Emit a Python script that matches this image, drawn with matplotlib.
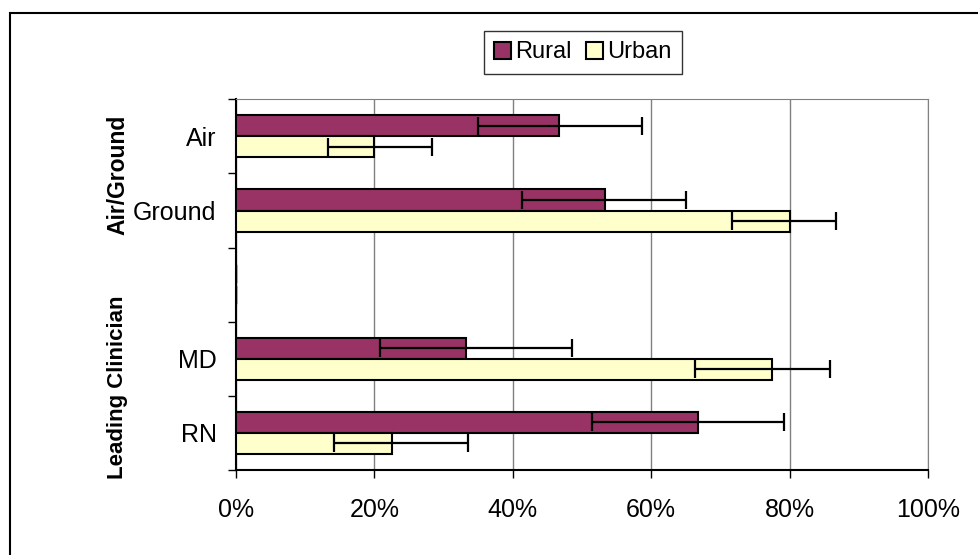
import matplotlib.pyplot as plt
import matplotlib.patches as mpatches
import numpy as np

plt.rcParams['font.family'] = ['Liberation Sans', 'DejaVu Sans']

# categories top to bottom (blank slot separates the two groups)
cats = ['Air', 'Ground', '', 'MD', 'RN']
rural = [46.7, 53.3, 0, 33.3, 66.7]
rural_lo = [35.0, 41.3, 0, 20.8, 51.4]
rural_hi = [58.7, 65.0, 0, 48.5, 79.2]
urban = [20.0, 80.0, 0, 77.4, 22.5]
urban_lo = [13.3, 71.7, 0, 66.4, 14.1]
urban_hi = [28.3, 86.7, 0, 85.8, 33.5]
x_ticks = [0, 20, 40, 60, 80, 100]
groups = ['Air/Ground', 'Leading Clinician']

rural_col = '#993366'
urban_col = '#FFFFCC'

fig = plt.figure(figsize=(9.79, 5.55), dpi=100)
ax = fig.add_axes([236/979, 1-470/555, (928-236)/979, (470-99.3)/555])

y = np.arange(len(cats))
h = 0.285
r_err = [np.array(rural) - np.array(rural_lo), np.array(rural_hi) - np.array(rural)]
u_err = [np.array(urban) - np.array(urban_lo), np.array(urban_hi) - np.array(urban)]

ax.barh(y - h/2, rural, height=h, color=rural_col, edgecolor='black', linewidth=1.5,
        label='Rural', zorder=3)
ax.barh(y + h/2, urban, height=h, color=urban_col, edgecolor='black', linewidth=1.5,
        label='Urban', zorder=3)
ax.errorbar(rural, y - h/2, xerr=r_err, fmt='none', ecolor='black', elinewidth=1.6,
            capsize=6.5, capthick=1.6, zorder=4)
ax.errorbar(urban, y + h/2, xerr=u_err, fmt='none', ecolor='black', elinewidth=1.6,
            capsize=6.5, capthick=1.6, zorder=4)

ax.set_xlim(0, 100)
ax.set_ylim(len(cats) - 0.5, -0.5)
ax.set_xticks(x_ticks)
ax.set_xticklabels([str(t) + '%' for t in x_ticks], fontsize=18)
ax.tick_params(axis='x', length=6, width=1, pad=14)

# boundary ticks unlabeled, labels at category centres
ax.set_yticks(np.arange(len(cats) + 1) - 0.5)
ax.set_yticklabels([])
ax.set_yticks(y, minor=True)
ax.set_yticklabels(cats, minor=True, fontsize=18)
ax.tick_params(axis='y', which='major', length=6, width=1)
ax.tick_params(axis='y', which='minor', length=0, pad=14)

ax.grid(axis='x', color='#808080', linewidth=1, zorder=0)
ax.spines['left'].set_color('black')
ax.spines['bottom'].set_color('black')
ax.spines['left'].set_linewidth(1.5)
ax.spines['bottom'].set_linewidth(1.5)
ax.spines['top'].set_color('#808080')
ax.spines['right'].set_color('#808080')

# group labels
fig.text(118/979, 1-175/555, groups[0], rotation=90, fontsize=16.5, fontweight='bold',
         ha='center', va='center')
fig.text(118/979, 1-387/555, groups[1], rotation=90, fontsize=16, fontweight='bold',
         ha='center', va='center')

leg = ax.legend(loc='center', bbox_to_anchor=(583/979, 1-52.5/555),
                bbox_transform=fig.transFigure, ncol=2, fontsize=17, frameon=True,
                fancybox=False, edgecolor='black', handlelength=0.7, handleheight=0.7,
                handletextpad=0.2, columnspacing=0.6, borderpad=0.45)
leg.get_frame().set_linewidth(1)

# outer chart border
fig.patches.append(mpatches.Rectangle((10/979, -0.1), 1.2, 1.1 - 13/555, fill=False,
                                      edgecolor='black', linewidth=1.5,
                                      transform=fig.transFigure, figure=fig))

plt.savefig('out.png', dpi=100)
